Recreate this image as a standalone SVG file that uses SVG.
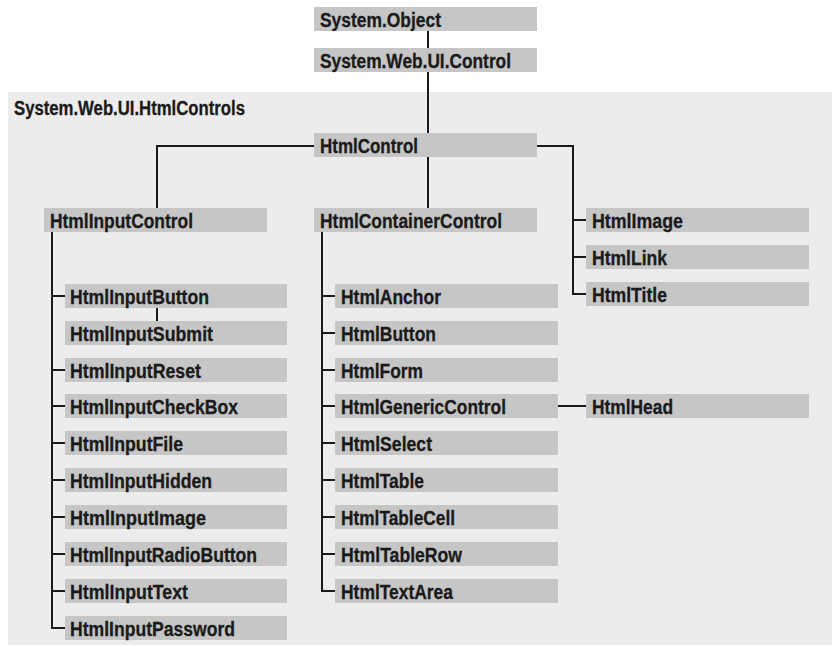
<svg xmlns="http://www.w3.org/2000/svg" width="832" height="647" viewBox="0 0 832 647">
<style>
.box{fill:#c5c6c5}
.t{font-family:"Liberation Sans",Arial,sans-serif;font-weight:bold;font-size:20px;fill:#1a1a1a;stroke:#1a1a1a;stroke-width:0.3}
.c{fill:none;stroke:#1a1a1a;stroke-width:2}
</style>
<rect width="832" height="647" fill="#ffffff"/>
<g id="panel">
<rect x="8" y="92" width="824" height="553" fill="#ececec"/>
<text class="t" x="14" y="115" textLength="231" lengthAdjust="spacingAndGlyphs">System.Web.UI.HtmlControls</text>
</g>
<g id="connectors" class="c">
<path d="M428 31V48M428 72V133"/>
<path d="M314 146H157V208M428 157V208"/>
<path d="M537 146H573V294H586M573 220H586M573 257H586"/>
<path d="M52 232V628H65M52 296H65M52 370H65M52 406H65M52 443H65M52 480H65M52 517H65M52 554H65M52 591H65"/>
<path d="M157 308V321"/>
<path d="M322 232V591H335M322 296H335M322 333H335M322 370H335M322 406H335M322 443H335M322 480H335M322 517H335M322 554H335"/>
<path d="M558 406H586"/>
</g>
<g id="n-object"><rect class="box" x="314" y="7" width="223" height="24"/><text class="t" x="320" y="27" textLength="121" lengthAdjust="spacingAndGlyphs">System.Object</text></g>
<g id="n-control"><rect class="box" x="314" y="48" width="223" height="24"/><text class="t" x="320" y="68" textLength="191" lengthAdjust="spacingAndGlyphs">System.Web.UI.Control</text></g>
<g id="n-htmlcontrol"><rect class="box" x="314" y="133" width="223" height="24"/><text class="t" x="320" y="153" textLength="98" lengthAdjust="spacingAndGlyphs">HtmlControl</text></g>
<g id="n-inputcontrol"><rect class="box" x="44" y="208" width="223" height="24"/><text class="t" x="50" y="228" textLength="143" lengthAdjust="spacingAndGlyphs">HtmlInputControl</text></g>
<g id="n-containercontrol"><rect class="box" x="314" y="208" width="223" height="24"/><text class="t" x="320" y="228" textLength="182" lengthAdjust="spacingAndGlyphs">HtmlContainerControl</text></g>
<g id="n-image"><rect class="box" x="586" y="208" width="223" height="24"/><text class="t" x="592" y="228" textLength="91" lengthAdjust="spacingAndGlyphs">HtmlImage</text></g>
<g id="n-link"><rect class="box" x="586" y="245" width="223" height="24"/><text class="t" x="592" y="265" textLength="75" lengthAdjust="spacingAndGlyphs">HtmlLink</text></g>
<g id="n-title"><rect class="box" x="586" y="282" width="223" height="24"/><text class="t" x="592" y="302" textLength="75" lengthAdjust="spacingAndGlyphs">HtmlTitle</text></g>
<g id="n-inputbutton"><rect class="box" x="65" y="284" width="222" height="24"/><text class="t" x="70" y="304" textLength="139" lengthAdjust="spacingAndGlyphs">HtmlInputButton</text></g>
<g id="n-inputsubmit"><rect class="box" x="65" y="321" width="222" height="24"/><text class="t" x="70" y="341" textLength="143" lengthAdjust="spacingAndGlyphs">HtmlInputSubmit</text></g>
<g id="n-inputreset"><rect class="box" x="65" y="358" width="222" height="24"/><text class="t" x="70" y="378" textLength="131" lengthAdjust="spacingAndGlyphs">HtmlInputReset</text></g>
<g id="n-inputcheckbox"><rect class="box" x="65" y="394" width="222" height="24"/><text class="t" x="70" y="414" textLength="168" lengthAdjust="spacingAndGlyphs">HtmlInputCheckBox</text></g>
<g id="n-inputfile"><rect class="box" x="65" y="431" width="222" height="24"/><text class="t" x="70" y="451" textLength="113" lengthAdjust="spacingAndGlyphs">HtmlInputFile</text></g>
<g id="n-inputhidden"><rect class="box" x="65" y="468" width="222" height="24"/><text class="t" x="70" y="488" textLength="142" lengthAdjust="spacingAndGlyphs">HtmlInputHidden</text></g>
<g id="n-inputimage"><rect class="box" x="65" y="505" width="222" height="24"/><text class="t" x="70" y="525" textLength="136" lengthAdjust="spacingAndGlyphs">HtmlInputImage</text></g>
<g id="n-inputradiobutton"><rect class="box" x="65" y="542" width="222" height="24"/><text class="t" x="70" y="562" textLength="187" lengthAdjust="spacingAndGlyphs">HtmlInputRadioButton</text></g>
<g id="n-inputtext"><rect class="box" x="65" y="579" width="222" height="24"/><text class="t" x="70" y="599" textLength="118" lengthAdjust="spacingAndGlyphs">HtmlInputText</text></g>
<g id="n-inputpassword"><rect class="box" x="65" y="616" width="222" height="24"/><text class="t" x="70" y="636" textLength="165" lengthAdjust="spacingAndGlyphs">HtmlInputPassword</text></g>
<g id="n-anchor"><rect class="box" x="335" y="284" width="223" height="24"/><text class="t" x="341" y="304" textLength="100" lengthAdjust="spacingAndGlyphs">HtmlAnchor</text></g>
<g id="n-button"><rect class="box" x="335" y="321" width="223" height="24"/><text class="t" x="341" y="341" textLength="95" lengthAdjust="spacingAndGlyphs">HtmlButton</text></g>
<g id="n-form"><rect class="box" x="335" y="358" width="223" height="24"/><text class="t" x="341" y="378" textLength="82" lengthAdjust="spacingAndGlyphs">HtmlForm</text></g>
<g id="n-genericcontrol"><rect class="box" x="335" y="394" width="223" height="24"/><text class="t" x="341" y="414" textLength="165" lengthAdjust="spacingAndGlyphs">HtmlGenericControl</text></g>
<g id="n-select"><rect class="box" x="335" y="431" width="223" height="24"/><text class="t" x="341" y="451" textLength="91" lengthAdjust="spacingAndGlyphs">HtmlSelect</text></g>
<g id="n-table"><rect class="box" x="335" y="468" width="223" height="24"/><text class="t" x="341" y="488" textLength="83" lengthAdjust="spacingAndGlyphs">HtmlTable</text></g>
<g id="n-tablecell"><rect class="box" x="335" y="505" width="223" height="24"/><text class="t" x="341" y="525" textLength="114" lengthAdjust="spacingAndGlyphs">HtmlTableCell</text></g>
<g id="n-tablerow"><rect class="box" x="335" y="542" width="223" height="24"/><text class="t" x="341" y="562" textLength="121" lengthAdjust="spacingAndGlyphs">HtmlTableRow</text></g>
<g id="n-textarea"><rect class="box" x="335" y="579" width="223" height="24"/><text class="t" x="341" y="599" textLength="112" lengthAdjust="spacingAndGlyphs">HtmlTextArea</text></g>
<g id="n-head"><rect class="box" x="586" y="394" width="223" height="24"/><text class="t" x="592" y="414" textLength="81" lengthAdjust="spacingAndGlyphs">HtmlHead</text></g>
</svg>
